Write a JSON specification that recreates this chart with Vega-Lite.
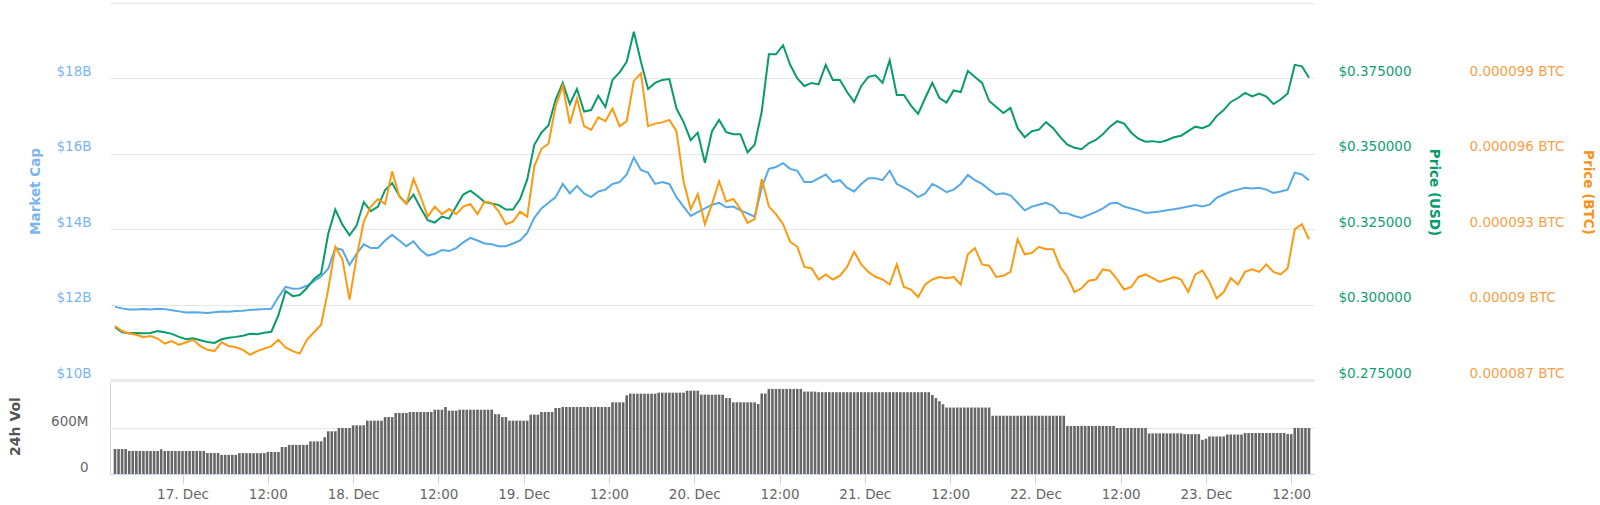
{
  "$schema": "https://vega.github.io/schema/vega-lite/v6.json",
  "width": 1204,
  "height": 471,
  "autosize": {"type": "none"},
  "padding": {"left": 110, "top": 3, "right": 286, "bottom": 31},
  "background": "white",
  "config": {
    "view": {"stroke": null},
    "font": "DejaVu Sans",
    "axis": {"labelFontSize": 13.5, "titleFontSize": 13.5, "titleFontWeight": "bold", "domain": false, "grid": false}
  },
  "datasets": {
    "prices": [
      {"time":"2017-12-16T14:30","mcap":11.94,"usd":0.2925,"ubtc":89.15},
      {"time":"2017-12-16T15:30","mcap":11.90,"usd":0.2908,"ubtc":88.95},
      {"time":"2017-12-16T16:30","mcap":11.87,"usd":0.2905,"ubtc":88.85},
      {"time":"2017-12-16T17:30","mcap":11.87,"usd":0.2906,"ubtc":88.80},
      {"time":"2017-12-16T18:30","mcap":11.88,"usd":0.2905,"ubtc":88.70},
      {"time":"2017-12-16T19:30","mcap":11.87,"usd":0.2906,"ubtc":88.75},
      {"time":"2017-12-16T20:30","mcap":11.89,"usd":0.2912,"ubtc":88.65},
      {"time":"2017-12-16T21:30","mcap":11.88,"usd":0.2908,"ubtc":88.45},
      {"time":"2017-12-16T22:30","mcap":11.85,"usd":0.2903,"ubtc":88.55},
      {"time":"2017-12-16T23:30","mcap":11.82,"usd":0.2893,"ubtc":88.40},
      {"time":"2017-12-17T00:30","mcap":11.79,"usd":0.2885,"ubtc":88.50},
      {"time":"2017-12-17T01:30","mcap":11.80,"usd":0.2888,"ubtc":88.60},
      {"time":"2017-12-17T02:30","mcap":11.79,"usd":0.2882,"ubtc":88.35},
      {"time":"2017-12-17T03:30","mcap":11.78,"usd":0.2876,"ubtc":88.20},
      {"time":"2017-12-17T04:30","mcap":11.80,"usd":0.2873,"ubtc":88.15},
      {"time":"2017-12-17T05:30","mcap":11.82,"usd":0.2885,"ubtc":88.50},
      {"time":"2017-12-17T06:30","mcap":11.81,"usd":0.2890,"ubtc":88.35},
      {"time":"2017-12-17T07:30","mcap":11.83,"usd":0.2893,"ubtc":88.30},
      {"time":"2017-12-17T08:30","mcap":11.84,"usd":0.2897,"ubtc":88.20},
      {"time":"2017-12-17T09:30","mcap":11.86,"usd":0.2903,"ubtc":88.00},
      {"time":"2017-12-17T10:30","mcap":11.87,"usd":0.2902,"ubtc":88.15},
      {"time":"2017-12-17T11:30","mcap":11.88,"usd":0.2907,"ubtc":88.25},
      {"time":"2017-12-17T12:30","mcap":11.89,"usd":0.2910,"ubtc":88.35},
      {"time":"2017-12-17T13:30","mcap":12.20,"usd":0.2965,"ubtc":88.60},
      {"time":"2017-12-17T14:30","mcap":12.47,"usd":0.3045,"ubtc":88.30},
      {"time":"2017-12-17T15:30","mcap":12.42,"usd":0.3028,"ubtc":88.15},
      {"time":"2017-12-17T16:30","mcap":12.43,"usd":0.3032,"ubtc":88.05},
      {"time":"2017-12-17T17:30","mcap":12.50,"usd":0.3055,"ubtc":88.60},
      {"time":"2017-12-17T18:30","mcap":12.62,"usd":0.3085,"ubtc":88.90},
      {"time":"2017-12-17T19:30","mcap":12.75,"usd":0.3103,"ubtc":89.20},
      {"time":"2017-12-17T20:30","mcap":12.95,"usd":0.3235,"ubtc":90.60},
      {"time":"2017-12-17T21:30","mcap":13.50,"usd":0.3315,"ubtc":92.30},
      {"time":"2017-12-17T22:30","mcap":13.45,"usd":0.3265,"ubtc":91.80},
      {"time":"2017-12-17T23:30","mcap":13.05,"usd":0.3230,"ubtc":90.20},
      {"time":"2017-12-18T00:30","mcap":13.35,"usd":0.3262,"ubtc":91.90},
      {"time":"2017-12-18T01:30","mcap":13.60,"usd":0.3340,"ubtc":93.30},
      {"time":"2017-12-18T02:30","mcap":13.50,"usd":0.3310,"ubtc":93.90},
      {"time":"2017-12-18T03:30","mcap":13.50,"usd":0.3325,"ubtc":94.20},
      {"time":"2017-12-18T04:30","mcap":13.70,"usd":0.3380,"ubtc":94.00},
      {"time":"2017-12-18T05:30","mcap":13.85,"usd":0.3403,"ubtc":95.30},
      {"time":"2017-12-18T06:30","mcap":13.70,"usd":0.3360,"ubtc":94.30},
      {"time":"2017-12-18T07:30","mcap":13.55,"usd":0.3335,"ubtc":94.00},
      {"time":"2017-12-18T08:30","mcap":13.68,"usd":0.3365,"ubtc":95.00},
      {"time":"2017-12-18T09:30","mcap":13.45,"usd":0.3320,"ubtc":94.30},
      {"time":"2017-12-18T10:30","mcap":13.30,"usd":0.3280,"ubtc":93.50},
      {"time":"2017-12-18T11:30","mcap":13.35,"usd":0.3272,"ubtc":93.90},
      {"time":"2017-12-18T12:30","mcap":13.45,"usd":0.3292,"ubtc":93.60},
      {"time":"2017-12-18T13:30","mcap":13.42,"usd":0.3285,"ubtc":93.80},
      {"time":"2017-12-18T14:30","mcap":13.50,"usd":0.3325,"ubtc":93.60},
      {"time":"2017-12-18T15:30","mcap":13.65,"usd":0.3365,"ubtc":93.90},
      {"time":"2017-12-18T16:30","mcap":13.77,"usd":0.3378,"ubtc":94.00},
      {"time":"2017-12-18T17:30","mcap":13.70,"usd":0.3360,"ubtc":93.60},
      {"time":"2017-12-18T18:30","mcap":13.62,"usd":0.3340,"ubtc":94.10},
      {"time":"2017-12-18T19:30","mcap":13.60,"usd":0.3335,"ubtc":94.05},
      {"time":"2017-12-18T20:30","mcap":13.55,"usd":0.3330,"ubtc":93.70},
      {"time":"2017-12-18T21:30","mcap":13.55,"usd":0.3315,"ubtc":93.20},
      {"time":"2017-12-18T22:30","mcap":13.62,"usd":0.3315,"ubtc":93.30},
      {"time":"2017-12-18T23:30","mcap":13.70,"usd":0.3350,"ubtc":93.70},
      {"time":"2017-12-19T00:30","mcap":13.90,"usd":0.3415,"ubtc":93.50},
      {"time":"2017-12-19T01:30","mcap":14.30,"usd":0.3530,"ubtc":95.50},
      {"time":"2017-12-19T02:30","mcap":14.55,"usd":0.3570,"ubtc":96.20},
      {"time":"2017-12-19T03:30","mcap":14.70,"usd":0.3595,"ubtc":96.40},
      {"time":"2017-12-19T04:30","mcap":14.85,"usd":0.3680,"ubtc":97.90},
      {"time":"2017-12-19T05:30","mcap":15.20,"usd":0.3735,"ubtc":98.70},
      {"time":"2017-12-19T06:30","mcap":14.95,"usd":0.3665,"ubtc":97.20},
      {"time":"2017-12-19T07:30","mcap":15.15,"usd":0.3715,"ubtc":98.20},
      {"time":"2017-12-19T08:30","mcap":14.95,"usd":0.3640,"ubtc":97.10},
      {"time":"2017-12-19T09:30","mcap":14.85,"usd":0.3645,"ubtc":96.95},
      {"time":"2017-12-19T10:30","mcap":15.00,"usd":0.3692,"ubtc":97.45},
      {"time":"2017-12-19T11:30","mcap":15.05,"usd":0.3655,"ubtc":97.30},
      {"time":"2017-12-19T12:30","mcap":15.20,"usd":0.3745,"ubtc":97.80},
      {"time":"2017-12-19T13:30","mcap":15.25,"usd":0.3770,"ubtc":97.10},
      {"time":"2017-12-19T14:30","mcap":15.45,"usd":0.3805,"ubtc":97.30},
      {"time":"2017-12-19T15:30","mcap":15.90,"usd":0.3905,"ubtc":98.90},
      {"time":"2017-12-19T16:30","mcap":15.57,"usd":0.3805,"ubtc":99.20},
      {"time":"2017-12-19T17:30","mcap":15.50,"usd":0.3715,"ubtc":97.10},
      {"time":"2017-12-19T18:30","mcap":15.20,"usd":0.3735,"ubtc":97.20},
      {"time":"2017-12-19T19:30","mcap":15.25,"usd":0.3745,"ubtc":97.25},
      {"time":"2017-12-19T20:30","mcap":15.20,"usd":0.3748,"ubtc":97.35},
      {"time":"2017-12-19T21:30","mcap":14.85,"usd":0.3650,"ubtc":96.90},
      {"time":"2017-12-19T22:30","mcap":14.60,"usd":0.3605,"ubtc":94.90},
      {"time":"2017-12-19T23:30","mcap":14.35,"usd":0.3545,"ubtc":93.80},
      {"time":"2017-12-20T00:30","mcap":14.45,"usd":0.3570,"ubtc":94.40},
      {"time":"2017-12-20T01:30","mcap":14.55,"usd":0.3470,"ubtc":93.20},
      {"time":"2017-12-20T02:30","mcap":14.65,"usd":0.3575,"ubtc":94.00},
      {"time":"2017-12-20T03:30","mcap":14.70,"usd":0.3612,"ubtc":94.90},
      {"time":"2017-12-20T04:30","mcap":14.58,"usd":0.3572,"ubtc":94.10},
      {"time":"2017-12-20T05:30","mcap":14.60,"usd":0.3565,"ubtc":94.20},
      {"time":"2017-12-20T06:30","mcap":14.50,"usd":0.3565,"ubtc":93.80},
      {"time":"2017-12-20T07:30","mcap":14.42,"usd":0.3505,"ubtc":93.25},
      {"time":"2017-12-20T08:30","mcap":14.33,"usd":0.3530,"ubtc":93.40},
      {"time":"2017-12-20T09:30","mcap":15.10,"usd":0.3640,"ubtc":95.00},
      {"time":"2017-12-20T10:30","mcap":15.60,"usd":0.3830,"ubtc":93.90},
      {"time":"2017-12-20T11:30","mcap":15.65,"usd":0.3830,"ubtc":93.60},
      {"time":"2017-12-20T12:30","mcap":15.75,"usd":0.3860,"ubtc":93.20},
      {"time":"2017-12-20T13:30","mcap":15.60,"usd":0.3795,"ubtc":92.50},
      {"time":"2017-12-20T14:30","mcap":15.55,"usd":0.3750,"ubtc":92.30},
      {"time":"2017-12-20T15:30","mcap":15.25,"usd":0.3725,"ubtc":91.50},
      {"time":"2017-12-20T16:30","mcap":15.25,"usd":0.3735,"ubtc":91.45},
      {"time":"2017-12-20T17:30","mcap":15.35,"usd":0.3730,"ubtc":91.00},
      {"time":"2017-12-20T18:30","mcap":15.45,"usd":0.3795,"ubtc":91.20},
      {"time":"2017-12-20T19:30","mcap":15.25,"usd":0.3745,"ubtc":91.00},
      {"time":"2017-12-20T20:30","mcap":15.30,"usd":0.3745,"ubtc":91.15},
      {"time":"2017-12-20T21:30","mcap":15.10,"usd":0.3705,"ubtc":91.50},
      {"time":"2017-12-20T22:30","mcap":15.00,"usd":0.3672,"ubtc":92.10},
      {"time":"2017-12-20T23:30","mcap":15.20,"usd":0.3725,"ubtc":91.60},
      {"time":"2017-12-21T00:30","mcap":15.35,"usd":0.3755,"ubtc":91.30},
      {"time":"2017-12-21T01:30","mcap":15.35,"usd":0.3760,"ubtc":91.10},
      {"time":"2017-12-21T02:30","mcap":15.30,"usd":0.3735,"ubtc":91.00},
      {"time":"2017-12-21T03:30","mcap":15.55,"usd":0.3810,"ubtc":90.80},
      {"time":"2017-12-21T04:30","mcap":15.20,"usd":0.3695,"ubtc":91.60},
      {"time":"2017-12-21T05:30","mcap":15.10,"usd":0.3695,"ubtc":90.70},
      {"time":"2017-12-21T06:30","mcap":15.00,"usd":0.3660,"ubtc":90.60},
      {"time":"2017-12-21T07:30","mcap":14.85,"usd":0.3632,"ubtc":90.30},
      {"time":"2017-12-21T08:30","mcap":14.95,"usd":0.3685,"ubtc":90.80},
      {"time":"2017-12-21T09:30","mcap":15.20,"usd":0.3735,"ubtc":91.00},
      {"time":"2017-12-21T10:30","mcap":15.10,"usd":0.3685,"ubtc":91.10},
      {"time":"2017-12-21T11:30","mcap":14.98,"usd":0.3670,"ubtc":91.05},
      {"time":"2017-12-21T12:30","mcap":15.05,"usd":0.3710,"ubtc":91.10},
      {"time":"2017-12-21T13:30","mcap":15.20,"usd":0.3705,"ubtc":90.80},
      {"time":"2017-12-21T14:30","mcap":15.44,"usd":0.3775,"ubtc":92.00},
      {"time":"2017-12-21T15:30","mcap":15.30,"usd":0.3755,"ubtc":92.25},
      {"time":"2017-12-21T16:30","mcap":15.20,"usd":0.3735,"ubtc":91.60},
      {"time":"2017-12-21T17:30","mcap":15.05,"usd":0.3675,"ubtc":91.55},
      {"time":"2017-12-21T18:30","mcap":14.92,"usd":0.3655,"ubtc":91.10},
      {"time":"2017-12-21T19:30","mcap":14.95,"usd":0.3635,"ubtc":91.15},
      {"time":"2017-12-21T20:30","mcap":14.90,"usd":0.3652,"ubtc":91.30},
      {"time":"2017-12-21T21:30","mcap":14.70,"usd":0.3585,"ubtc":92.60},
      {"time":"2017-12-21T22:30","mcap":14.50,"usd":0.3555,"ubtc":92.00},
      {"time":"2017-12-21T23:30","mcap":14.60,"usd":0.3575,"ubtc":92.05},
      {"time":"2017-12-22T00:30","mcap":14.65,"usd":0.3580,"ubtc":92.30},
      {"time":"2017-12-22T01:30","mcap":14.70,"usd":0.3605,"ubtc":92.20},
      {"time":"2017-12-22T02:30","mcap":14.62,"usd":0.3585,"ubtc":92.20},
      {"time":"2017-12-22T03:30","mcap":14.43,"usd":0.3555,"ubtc":91.50},
      {"time":"2017-12-22T04:30","mcap":14.42,"usd":0.3530,"ubtc":91.10},
      {"time":"2017-12-22T05:30","mcap":14.35,"usd":0.3520,"ubtc":90.50},
      {"time":"2017-12-22T06:30","mcap":14.30,"usd":0.3515,"ubtc":90.65},
      {"time":"2017-12-22T07:30","mcap":14.38,"usd":0.3535,"ubtc":90.95},
      {"time":"2017-12-22T08:30","mcap":14.46,"usd":0.3546,"ubtc":91.00},
      {"time":"2017-12-22T09:30","mcap":14.55,"usd":0.3565,"ubtc":91.40},
      {"time":"2017-12-22T10:30","mcap":14.68,"usd":0.3590,"ubtc":91.35},
      {"time":"2017-12-22T11:30","mcap":14.70,"usd":0.3608,"ubtc":91.00},
      {"time":"2017-12-22T12:30","mcap":14.60,"usd":0.3600,"ubtc":90.60},
      {"time":"2017-12-22T13:30","mcap":14.55,"usd":0.3570,"ubtc":90.70},
      {"time":"2017-12-22T14:30","mcap":14.50,"usd":0.3550,"ubtc":91.10},
      {"time":"2017-12-22T15:30","mcap":14.43,"usd":0.3540,"ubtc":91.20},
      {"time":"2017-12-22T16:30","mcap":14.45,"usd":0.3542,"ubtc":91.05},
      {"time":"2017-12-22T17:30","mcap":14.47,"usd":0.3538,"ubtc":90.90},
      {"time":"2017-12-22T18:30","mcap":14.50,"usd":0.3545,"ubtc":91.00},
      {"time":"2017-12-22T19:30","mcap":14.53,"usd":0.3555,"ubtc":91.10},
      {"time":"2017-12-22T20:30","mcap":14.56,"usd":0.3560,"ubtc":91.00},
      {"time":"2017-12-22T21:30","mcap":14.60,"usd":0.3575,"ubtc":90.50},
      {"time":"2017-12-22T22:30","mcap":14.64,"usd":0.3590,"ubtc":91.20},
      {"time":"2017-12-22T23:30","mcap":14.60,"usd":0.3585,"ubtc":91.35},
      {"time":"2017-12-23T00:30","mcap":14.65,"usd":0.3595,"ubtc":90.90},
      {"time":"2017-12-23T01:30","mcap":14.83,"usd":0.3625,"ubtc":90.25},
      {"time":"2017-12-23T02:30","mcap":14.92,"usd":0.3645,"ubtc":90.50},
      {"time":"2017-12-23T03:30","mcap":15.00,"usd":0.3672,"ubtc":91.05},
      {"time":"2017-12-23T04:30","mcap":15.05,"usd":0.3685,"ubtc":90.80},
      {"time":"2017-12-23T05:30","mcap":15.10,"usd":0.3702,"ubtc":91.30},
      {"time":"2017-12-23T06:30","mcap":15.08,"usd":0.3690,"ubtc":91.40},
      {"time":"2017-12-23T07:30","mcap":15.10,"usd":0.3700,"ubtc":91.30},
      {"time":"2017-12-23T08:30","mcap":15.05,"usd":0.3690,"ubtc":91.60},
      {"time":"2017-12-23T09:30","mcap":14.96,"usd":0.3665,"ubtc":91.30},
      {"time":"2017-12-23T10:30","mcap":15.00,"usd":0.3680,"ubtc":91.20},
      {"time":"2017-12-23T11:30","mcap":15.05,"usd":0.3700,"ubtc":91.45},
      {"time":"2017-12-23T12:30","mcap":15.50,"usd":0.3795,"ubtc":93.00},
      {"time":"2017-12-23T13:30","mcap":15.45,"usd":0.3790,"ubtc":93.20},
      {"time":"2017-12-23T14:30","mcap":15.30,"usd":0.3752,"ubtc":92.60}
    ],
    "volume": [
      {"time":"2017-12-16T14:30","vol":326},{"time":"2017-12-16T15:00","vol":326},{"time":"2017-12-16T15:30","vol":326},{"time":"2017-12-16T16:00","vol":326},
      {"time":"2017-12-16T16:30","vol":300},{"time":"2017-12-16T17:00","vol":300},{"time":"2017-12-16T17:30","vol":300},{"time":"2017-12-16T18:00","vol":300},
      {"time":"2017-12-16T18:30","vol":300},{"time":"2017-12-16T19:00","vol":300},{"time":"2017-12-16T19:30","vol":300},{"time":"2017-12-16T20:00","vol":300},
      {"time":"2017-12-16T20:30","vol":300},{"time":"2017-12-16T21:00","vol":322},{"time":"2017-12-16T21:30","vol":300},{"time":"2017-12-16T22:00","vol":300},
      {"time":"2017-12-16T22:30","vol":300},{"time":"2017-12-16T23:00","vol":300},{"time":"2017-12-16T23:30","vol":300},
      {"time":"2017-12-17T00:00","vol":300},{"time":"2017-12-17T00:30","vol":300},{"time":"2017-12-17T01:00","vol":300},{"time":"2017-12-17T01:30","vol":300},
      {"time":"2017-12-17T02:00","vol":300},{"time":"2017-12-17T02:30","vol":300},{"time":"2017-12-17T03:00","vol":300},{"time":"2017-12-17T03:30","vol":274},
      {"time":"2017-12-17T04:00","vol":274},{"time":"2017-12-17T04:30","vol":274},{"time":"2017-12-17T05:00","vol":274},{"time":"2017-12-17T05:30","vol":250},
      {"time":"2017-12-17T06:00","vol":250},{"time":"2017-12-17T06:30","vol":250},{"time":"2017-12-17T07:00","vol":250},{"time":"2017-12-17T07:30","vol":250},
      {"time":"2017-12-17T08:00","vol":272},{"time":"2017-12-17T08:30","vol":272},{"time":"2017-12-17T09:00","vol":272},{"time":"2017-12-17T09:30","vol":272},
      {"time":"2017-12-17T10:00","vol":272},{"time":"2017-12-17T10:30","vol":272},{"time":"2017-12-17T11:00","vol":272},{"time":"2017-12-17T11:30","vol":272},
      {"time":"2017-12-17T12:00","vol":287},{"time":"2017-12-17T12:30","vol":287},{"time":"2017-12-17T13:00","vol":287},{"time":"2017-12-17T13:30","vol":287},
      {"time":"2017-12-17T14:00","vol":352},{"time":"2017-12-17T14:30","vol":352},{"time":"2017-12-17T15:00","vol":380},{"time":"2017-12-17T15:30","vol":380},
      {"time":"2017-12-17T16:00","vol":380},{"time":"2017-12-17T16:30","vol":380},{"time":"2017-12-17T17:00","vol":380},{"time":"2017-12-17T17:30","vol":380},
      {"time":"2017-12-17T18:00","vol":426},{"time":"2017-12-17T18:30","vol":426},{"time":"2017-12-17T19:00","vol":426},{"time":"2017-12-17T19:30","vol":426},
      {"time":"2017-12-17T20:00","vol":480},{"time":"2017-12-17T20:30","vol":557},{"time":"2017-12-17T21:00","vol":557},{"time":"2017-12-17T21:30","vol":557},
      {"time":"2017-12-17T22:00","vol":600},{"time":"2017-12-17T22:30","vol":600},{"time":"2017-12-17T23:00","vol":600},{"time":"2017-12-17T23:30","vol":600},
      {"time":"2017-12-18T00:00","vol":635},{"time":"2017-12-18T00:30","vol":635},{"time":"2017-12-18T01:00","vol":635},{"time":"2017-12-18T01:30","vol":635},
      {"time":"2017-12-18T02:00","vol":696},{"time":"2017-12-18T02:30","vol":696},{"time":"2017-12-18T03:00","vol":696},{"time":"2017-12-18T03:30","vol":696},
      {"time":"2017-12-18T04:00","vol":696},{"time":"2017-12-18T04:30","vol":743},{"time":"2017-12-18T05:00","vol":743},{"time":"2017-12-18T05:30","vol":743},
      {"time":"2017-12-18T06:00","vol":796},{"time":"2017-12-18T06:30","vol":796},{"time":"2017-12-18T07:00","vol":796},{"time":"2017-12-18T07:30","vol":796},
      {"time":"2017-12-18T08:00","vol":809},{"time":"2017-12-18T08:30","vol":809},{"time":"2017-12-18T09:00","vol":809},{"time":"2017-12-18T09:30","vol":809},
      {"time":"2017-12-18T10:00","vol":809},{"time":"2017-12-18T10:30","vol":809},{"time":"2017-12-18T11:00","vol":809},{"time":"2017-12-18T11:30","vol":839},
      {"time":"2017-12-18T12:00","vol":839},{"time":"2017-12-18T12:30","vol":839},{"time":"2017-12-18T13:00","vol":874},{"time":"2017-12-18T13:30","vol":826},
      {"time":"2017-12-18T14:00","vol":826},{"time":"2017-12-18T14:30","vol":826},{"time":"2017-12-18T15:00","vol":839},{"time":"2017-12-18T15:30","vol":839},
      {"time":"2017-12-18T16:00","vol":839},{"time":"2017-12-18T16:30","vol":839},{"time":"2017-12-18T17:00","vol":839},{"time":"2017-12-18T17:30","vol":839},
      {"time":"2017-12-18T18:00","vol":839},{"time":"2017-12-18T18:30","vol":839},{"time":"2017-12-18T19:00","vol":839},{"time":"2017-12-18T19:30","vol":839},
      {"time":"2017-12-18T20:00","vol":780},{"time":"2017-12-18T20:30","vol":780},{"time":"2017-12-18T21:00","vol":743},{"time":"2017-12-18T21:30","vol":743},
      {"time":"2017-12-18T22:00","vol":696},{"time":"2017-12-18T22:30","vol":696},{"time":"2017-12-18T23:00","vol":696},{"time":"2017-12-18T23:30","vol":696},
      {"time":"2017-12-19T00:00","vol":696},{"time":"2017-12-19T00:30","vol":696},{"time":"2017-12-19T01:00","vol":774},{"time":"2017-12-19T01:30","vol":774},
      {"time":"2017-12-19T02:00","vol":774},{"time":"2017-12-19T02:30","vol":809},{"time":"2017-12-19T03:00","vol":809},{"time":"2017-12-19T03:30","vol":809},
      {"time":"2017-12-19T04:00","vol":809},{"time":"2017-12-19T04:30","vol":861},{"time":"2017-12-19T05:00","vol":861},{"time":"2017-12-19T05:30","vol":874},
      {"time":"2017-12-19T06:00","vol":874},{"time":"2017-12-19T06:30","vol":874},{"time":"2017-12-19T07:00","vol":874},{"time":"2017-12-19T07:30","vol":874},
      {"time":"2017-12-19T08:00","vol":874},{"time":"2017-12-19T08:30","vol":874},{"time":"2017-12-19T09:00","vol":874},{"time":"2017-12-19T09:30","vol":874},
      {"time":"2017-12-19T10:00","vol":874},{"time":"2017-12-19T10:30","vol":874},{"time":"2017-12-19T11:00","vol":874},{"time":"2017-12-19T11:30","vol":874},
      {"time":"2017-12-19T12:00","vol":874},{"time":"2017-12-19T12:30","vol":935},{"time":"2017-12-19T13:00","vol":935},{"time":"2017-12-19T13:30","vol":935},
      {"time":"2017-12-19T14:00","vol":935},{"time":"2017-12-19T14:30","vol":1026},{"time":"2017-12-19T15:00","vol":1048},{"time":"2017-12-19T15:30","vol":1048},
      {"time":"2017-12-19T16:00","vol":1048},{"time":"2017-12-19T16:30","vol":1048},{"time":"2017-12-19T17:00","vol":1048},{"time":"2017-12-19T17:30","vol":1048},
      {"time":"2017-12-19T18:00","vol":1048},{"time":"2017-12-19T18:30","vol":1048},{"time":"2017-12-19T19:00","vol":1061},{"time":"2017-12-19T19:30","vol":1061},
      {"time":"2017-12-19T20:00","vol":1061},{"time":"2017-12-19T20:30","vol":1061},{"time":"2017-12-19T21:00","vol":1061},{"time":"2017-12-19T21:30","vol":1061},
      {"time":"2017-12-19T22:00","vol":1061},{"time":"2017-12-19T22:30","vol":1061},{"time":"2017-12-19T23:00","vol":1087},{"time":"2017-12-19T23:30","vol":1087},
      {"time":"2017-12-20T00:00","vol":1087},{"time":"2017-12-20T00:30","vol":1087},{"time":"2017-12-20T01:00","vol":1035},{"time":"2017-12-20T01:30","vol":1035},
      {"time":"2017-12-20T02:00","vol":1035},{"time":"2017-12-20T02:30","vol":1035},{"time":"2017-12-20T03:00","vol":1035},{"time":"2017-12-20T03:30","vol":1035},
      {"time":"2017-12-20T04:00","vol":1035},{"time":"2017-12-20T04:30","vol":990},{"time":"2017-12-20T05:00","vol":990},{"time":"2017-12-20T05:30","vol":935},
      {"time":"2017-12-20T06:00","vol":935},{"time":"2017-12-20T06:30","vol":935},{"time":"2017-12-20T07:00","vol":935},{"time":"2017-12-20T07:30","vol":935},
      {"time":"2017-12-20T08:00","vol":935},{"time":"2017-12-20T08:30","vol":935},{"time":"2017-12-20T09:00","vol":913},{"time":"2017-12-20T09:30","vol":1050},
      {"time":"2017-12-20T10:00","vol":1050},{"time":"2017-12-20T10:30","vol":1110},{"time":"2017-12-20T11:00","vol":1110},{"time":"2017-12-20T11:30","vol":1110},
      {"time":"2017-12-20T12:00","vol":1110},{"time":"2017-12-20T12:30","vol":1110},{"time":"2017-12-20T13:00","vol":1110},{"time":"2017-12-20T13:30","vol":1110},
      {"time":"2017-12-20T14:00","vol":1110},{"time":"2017-12-20T14:30","vol":1110},{"time":"2017-12-20T15:00","vol":1110},{"time":"2017-12-20T15:30","vol":1075},
      {"time":"2017-12-20T16:00","vol":1075},{"time":"2017-12-20T16:30","vol":1075},{"time":"2017-12-20T17:00","vol":1075},{"time":"2017-12-20T17:30","vol":1067},
      {"time":"2017-12-20T18:00","vol":1067},{"time":"2017-12-20T18:30","vol":1067},{"time":"2017-12-20T19:00","vol":1067},{"time":"2017-12-20T19:30","vol":1067},
      {"time":"2017-12-20T20:00","vol":1067},{"time":"2017-12-20T20:30","vol":1067},{"time":"2017-12-20T21:00","vol":1067},{"time":"2017-12-20T21:30","vol":1067},
      {"time":"2017-12-20T22:00","vol":1067},{"time":"2017-12-20T22:30","vol":1067},{"time":"2017-12-20T23:00","vol":1067},{"time":"2017-12-20T23:30","vol":1067},
      {"time":"2017-12-21T00:00","vol":1067},{"time":"2017-12-21T00:30","vol":1067},{"time":"2017-12-21T01:00","vol":1067},{"time":"2017-12-21T01:30","vol":1067},
      {"time":"2017-12-21T02:00","vol":1067},{"time":"2017-12-21T02:30","vol":1067},{"time":"2017-12-21T03:00","vol":1067},{"time":"2017-12-21T03:30","vol":1067},
      {"time":"2017-12-21T04:00","vol":1067},{"time":"2017-12-21T04:30","vol":1067},{"time":"2017-12-21T05:00","vol":1067},{"time":"2017-12-21T05:30","vol":1067},
      {"time":"2017-12-21T06:00","vol":1067},{"time":"2017-12-21T06:30","vol":1067},{"time":"2017-12-21T07:00","vol":1067},{"time":"2017-12-21T07:30","vol":1067},
      {"time":"2017-12-21T08:00","vol":1067},{"time":"2017-12-21T08:30","vol":1067},{"time":"2017-12-21T09:00","vol":1067},{"time":"2017-12-21T09:30","vol":1030},
      {"time":"2017-12-21T10:00","vol":990},{"time":"2017-12-21T10:30","vol":950},{"time":"2017-12-21T11:00","vol":910},{"time":"2017-12-21T11:30","vol":867},
      {"time":"2017-12-21T12:00","vol":867},{"time":"2017-12-21T12:30","vol":867},{"time":"2017-12-21T13:00","vol":867},{"time":"2017-12-21T13:30","vol":867},
      {"time":"2017-12-21T14:00","vol":867},{"time":"2017-12-21T14:30","vol":867},{"time":"2017-12-21T15:00","vol":867},{"time":"2017-12-21T15:30","vol":867},
      {"time":"2017-12-21T16:00","vol":867},{"time":"2017-12-21T16:30","vol":867},{"time":"2017-12-21T17:00","vol":867},{"time":"2017-12-21T17:30","vol":867},
      {"time":"2017-12-21T18:00","vol":760},{"time":"2017-12-21T18:30","vol":760},{"time":"2017-12-21T19:00","vol":760},{"time":"2017-12-21T19:30","vol":760},
      {"time":"2017-12-21T20:00","vol":760},{"time":"2017-12-21T20:30","vol":760},{"time":"2017-12-21T21:00","vol":760},{"time":"2017-12-21T21:30","vol":760},
      {"time":"2017-12-21T22:00","vol":760},{"time":"2017-12-21T22:30","vol":760},{"time":"2017-12-21T23:00","vol":760},{"time":"2017-12-21T23:30","vol":760},
      {"time":"2017-12-22T00:00","vol":760},{"time":"2017-12-22T00:30","vol":760},{"time":"2017-12-22T01:00","vol":760},{"time":"2017-12-22T01:30","vol":760},
      {"time":"2017-12-22T02:00","vol":760},{"time":"2017-12-22T02:30","vol":760},{"time":"2017-12-22T03:00","vol":760},{"time":"2017-12-22T03:30","vol":760},
      {"time":"2017-12-22T04:00","vol":760},{"time":"2017-12-22T04:30","vol":627},{"time":"2017-12-22T05:00","vol":627},{"time":"2017-12-22T05:30","vol":627},
      {"time":"2017-12-22T06:00","vol":627},{"time":"2017-12-22T06:30","vol":627},{"time":"2017-12-22T07:00","vol":627},{"time":"2017-12-22T07:30","vol":627},
      {"time":"2017-12-22T08:00","vol":627},{"time":"2017-12-22T08:30","vol":627},{"time":"2017-12-22T09:00","vol":627},{"time":"2017-12-22T09:30","vol":627},
      {"time":"2017-12-22T10:00","vol":627},{"time":"2017-12-22T10:30","vol":627},{"time":"2017-12-22T11:00","vol":627},{"time":"2017-12-22T11:30","vol":600},
      {"time":"2017-12-22T12:00","vol":600},{"time":"2017-12-22T12:30","vol":600},{"time":"2017-12-22T13:00","vol":600},{"time":"2017-12-22T13:30","vol":600},
      {"time":"2017-12-22T14:00","vol":600},{"time":"2017-12-22T14:30","vol":600},{"time":"2017-12-22T15:00","vol":600},{"time":"2017-12-22T15:30","vol":600},
      {"time":"2017-12-22T16:00","vol":530},{"time":"2017-12-22T16:30","vol":530},{"time":"2017-12-22T17:00","vol":530},{"time":"2017-12-22T17:30","vol":530},
      {"time":"2017-12-22T18:00","vol":530},{"time":"2017-12-22T18:30","vol":530},{"time":"2017-12-22T19:00","vol":530},{"time":"2017-12-22T19:30","vol":530},
      {"time":"2017-12-22T20:00","vol":530},{"time":"2017-12-22T20:30","vol":530},{"time":"2017-12-22T21:00","vol":520},{"time":"2017-12-22T21:30","vol":520},
      {"time":"2017-12-22T22:00","vol":520},{"time":"2017-12-22T22:30","vol":520},{"time":"2017-12-22T23:00","vol":520},{"time":"2017-12-22T23:30","vol":445},
      {"time":"2017-12-23T00:00","vol":460},{"time":"2017-12-23T00:30","vol":490},{"time":"2017-12-23T01:00","vol":490},{"time":"2017-12-23T01:30","vol":490},
      {"time":"2017-12-23T02:00","vol":490},{"time":"2017-12-23T02:30","vol":490},{"time":"2017-12-23T03:00","vol":515},{"time":"2017-12-23T03:30","vol":515},
      {"time":"2017-12-23T04:00","vol":515},{"time":"2017-12-23T04:30","vol":515},{"time":"2017-12-23T05:00","vol":515},{"time":"2017-12-23T05:30","vol":535},
      {"time":"2017-12-23T06:00","vol":535},{"time":"2017-12-23T06:30","vol":535},{"time":"2017-12-23T07:00","vol":535},{"time":"2017-12-23T07:30","vol":535},
      {"time":"2017-12-23T08:00","vol":535},{"time":"2017-12-23T08:30","vol":535},{"time":"2017-12-23T09:00","vol":535},{"time":"2017-12-23T09:30","vol":535},
      {"time":"2017-12-23T10:00","vol":535},{"time":"2017-12-23T10:30","vol":535},{"time":"2017-12-23T11:00","vol":535},{"time":"2017-12-23T11:30","vol":520},
      {"time":"2017-12-23T12:00","vol":520},{"time":"2017-12-23T12:30","vol":600},{"time":"2017-12-23T13:00","vol":600},{"time":"2017-12-23T13:30","vol":600},
      {"time":"2017-12-23T14:00","vol":600},{"time":"2017-12-23T14:30","vol":600}
    ]
  },
  "layer": [
    {
      "data": {"name": "volume"},
      "mark": {"type": "bar", "width": 2.6, "color": "#666666"},
      "encoding": {
        "x": {
          "field": "time",
          "type": "temporal",
          "title": null,
          "scale": {
            "domain": [
              {"year": 2017, "month": 12, "date": 16, "hours": 14, "minutes": 30},
              {"year": 2017, "month": 12, "date": 23, "hours": 14, "minutes": 30}
            ]
          },
          "axis": {
            "domain": true,
            "domainColor": "#ccd6eb",
            "ticks": true,
            "tickColor": "#ccd6eb",
            "tickSize": 10,
            "values": [
              {"year": 2017, "month": 12, "date": 17, "hours": 0},
              {"year": 2017, "month": 12, "date": 17, "hours": 12},
              {"year": 2017, "month": 12, "date": 18, "hours": 0},
              {"year": 2017, "month": 12, "date": 18, "hours": 12},
              {"year": 2017, "month": 12, "date": 19, "hours": 0},
              {"year": 2017, "month": 12, "date": 19, "hours": 12},
              {"year": 2017, "month": 12, "date": 20, "hours": 0},
              {"year": 2017, "month": 12, "date": 20, "hours": 12},
              {"year": 2017, "month": 12, "date": 21, "hours": 0},
              {"year": 2017, "month": 12, "date": 21, "hours": 12},
              {"year": 2017, "month": 12, "date": 22, "hours": 0},
              {"year": 2017, "month": 12, "date": 22, "hours": 12},
              {"year": 2017, "month": 12, "date": 23, "hours": 0},
              {"year": 2017, "month": 12, "date": 23, "hours": 12}
            ],
            "labelExpr": "hours(datum.value) == 0 ? timeFormat(datum.value, '%d. %b') : timeFormat(datum.value, '%H:%M')",
            "labelColor": "#666666",
            "labelPadding": 3,
            "labelFlush": false,
            "labelOverlap": false,
            "grid": false
          }
        },
        "y": {
          "field": "vol",
          "type": "quantitative",
          "title": "24h Vol",
          "scale": {"domain": [0, 1200], "range": [471, 379], "nice": false},
          "axis": {
            "orient": "left",
            "values": [0, 600],
            "labelExpr": "datum.value == 0 ? '0' : datum.value + 'M'",
            "grid": true,
            "gridColor": "#e6e6e6",
            "domain": true,
            "domainColor": "#ccd6eb",
            "ticks": false,
            "labelColor": "#666666",
            "labelPadding": 22,
            "labelOffset": -7,
            "titleColor": "#555555",
            "titleFontSize": 14,
            "titleAngle": 270,
            "titleAlign": "center",
            "titleBaseline": "middle",
            "titleX": -95,
            "titleY": 423
          }
        }
      }
    },
    {
      "data": {"name": "prices"},
      "mark": {"type": "line", "color": "#55aae6", "strokeWidth": 2},
      "encoding": {
        "x": {"field": "time", "type": "temporal"},
        "y": {
          "field": "mcap",
          "type": "quantitative",
          "title": "Market Cap",
          "scale": {"domain": [10, 20], "range": [377, 0], "nice": false, "zero": false},
          "axis": {
            "orient": "left",
            "values": [10, 12, 14, 16, 18, 20],
            "labelExpr": "datum.value == 20 ? '' : '$' + datum.value + 'B'",
            "grid": true,
            "gridColor": "#e6e6e6",
            "gridWidth": {"condition": {"test": "datum.value == 10", "value": 2.5}, "value": 1},
            "ticks": false,
            "labelColor": "#7cb5ec",
            "labelPadding": 19,
            "labelOffset": -7,
            "titleColor": "#7cb5ec",
            "titleAngle": 270,
            "titleAlign": "center",
            "titleBaseline": "middle",
            "titleX": -75,
            "titleY": 188
          }
        }
      }
    },
    {
      "data": {"name": "prices"},
      "mark": {"type": "line", "color": "#0a9b6c", "strokeWidth": 2},
      "encoding": {
        "x": {"field": "time", "type": "temporal"},
        "y": {
          "field": "usd",
          "type": "quantitative",
          "title": "Price (USD)",
          "scale": {"domain": [0.275, 0.4], "range": [377, 0], "nice": false, "zero": false},
          "axis": {
            "orient": "right",
            "values": [0.275, 0.3, 0.325, 0.35, 0.375],
            "labelExpr": "format(datum.value, '$.6f')",
            "ticks": false,
            "labelColor": "#129e73",
            "labelPadding": 24,
            "labelOffset": -7,
            "titleColor": "#069a6c",
            "titleAngle": 90,
            "titleAlign": "center",
            "titleBaseline": "middle",
            "titleX": 119,
            "titleY": 189
          }
        }
      }
    },
    {
      "data": {"name": "prices"},
      "mark": {"type": "line", "color": "#fb9a12", "strokeWidth": 2},
      "encoding": {
        "x": {"field": "time", "type": "temporal"},
        "y": {
          "field": "ubtc",
          "type": "quantitative",
          "title": "Price (BTC)",
          "scale": {"domain": [87, 102], "range": [377, 0], "nice": false, "zero": false},
          "axis": {
            "orient": "right",
            "values": [87, 90, 93, 96, 99],
            "labelExpr": "datum.value == 90 ? '0.00009 BTC' : '0.0000' + datum.value + ' BTC'",
            "ticks": false,
            "labelColor": "#f7a04a",
            "labelPadding": 155,
            "labelOffset": -7,
            "titleColor": "#f7931a",
            "titleAngle": 90,
            "titleAlign": "center",
            "titleBaseline": "middle",
            "titleX": 273,
            "titleY": 189
          }
        }
      }
    }
  ],
  "resolve": {"scale": {"y": "independent"}, "axis": {"y": "independent"}}
}
